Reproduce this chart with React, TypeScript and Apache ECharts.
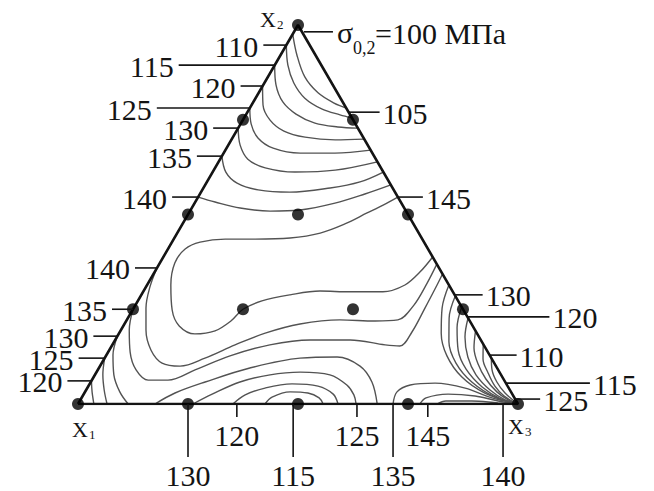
import React, { useEffect, useRef } from "react";
import * as echarts from "echarts";

// Compositions are written as [X2 %, X3 %]; X1 = 100 - X2 - X3.
type Comp = [number, number];

// {3,4} simplex-lattice design points
const latticePoints: Comp[] = [
  [0, 0], [100, 0], [0, 100],
  [25, 0], [50, 0], [75, 0],
  [75, 25], [50, 50], [25, 75],
  [0, 25], [0, 50], [0, 75],
  [50, 25], [25, 25], [25, 50],
];

// Iso-lines of the yield strength, MPa
const apex105: Comp[] = [[97.6, 0], [92.1, 3.7], [86.3, 8.4], [82.1, 13.5], [79.4, 18.5], [78.1, 21.9]];
const apex110: Comp[] = [[94.7, 0], [89.4, 3.0], [84.7, 6.7], [80.7, 11.2], [77.8, 16.6], [76.3, 21.4], [75.5, 24.5]];
const apex115: Comp[] = [[89.4, 0], [84.2, 2.9], [79.7, 6.7], [76.5, 11.3], [74.1, 16.8], [73.1, 22.5], [72.8, 27.2]];
const apex120: Comp[] = [[83.9, 0], [78.9, 2.6], [74.9, 6.2], [72.0, 10.8], [70.4, 16.4], [69.7, 23.6], [69.9, 30.1]];
const apex125: Comp[] = [[78.1, 0], [73.9, 2.4], [70.2, 5.8], [67.5, 10.6], [66.2, 17.4], [66.2, 25.3], [67.0, 33.0]];
const apex130: Comp[] = [[72.8, 0], [68.3, 2.7], [64.6, 6.3], [62.3, 11.4], [61.2, 18.7], [61.7, 27.6], [63.9, 36.1]];
const apex135: Comp[] = [[65.4, 0], [61.2, 3.0], [58.3, 7.0], [56.5, 12.7], [55.9, 20.2], [57.0, 28.8], [58.6, 34.8], [61.2, 38.8]];
const apex140: Comp[] = [[54.6, 0], [53.3, 4.5], [51.7, 11.0], [50.9, 18.2], [51.2, 24.9], [53.0, 31.9], [55.4, 37.5], [57.8, 42.2]];

const loop145: Comp[] = [
  [54.6, 45.4], [52.5, 43.1], [50.4, 40.5], [47.5, 36.9], [45.1, 32.5], [43.8, 26.3], [43.5, 18.5],
  [43.5, 11.7], [42.7, 6.4], [40.9, 3.9], [37.2, 3.4], [31.4, 5.4], [24.8, 9.0], [20.6, 12.7],
  [18.5, 17.3], [19.3, 21.5], [21.9, 23.8], [25, 25], [27.2, 28.2], [28.8, 33.8], [29.8, 40.1],
  [29.6, 47.0], [29.6, 54.5], [31.4, 58.6], [34.8, 60.3], [38.8, 61.2],
];
const band140: Comp[] = [
  [35.9, 0], [30.9, 0.9], [25.3, 2.8], [19.5, 5.7], [14.2, 9.5], [10.8, 13.7], [10.0, 18.2],
  [12.1, 22.8], [15.6, 27.9], [18.7, 33.2], [21.1, 39.9], [22.2, 48.4], [21.9, 56.6], [22.2, 61.6],
  [26.1, 63.3], [31.9, 63.4], [36.9, 63.1],
];
const band135: Comp[] = [
  [25, 0], [19.5, 1.9], [13.7, 5.0], [9.0, 8.7], [6.3, 12.8], [6.3, 17.3], [9.0, 22.1],
  [12.7, 28.2], [15.6, 35.8], [16.9, 44.3], [16.9, 53.4], [15.6, 62.0], [15.3, 65.5], [19.0, 66.4],
  [25.3, 66.2], [31.4, 65.9], [34.3, 65.7],
];

const trough1: Comp[] = [[0, 42.5], [1.8, 43.2], [3.2, 46.6], [2.9, 50.8], [1.6, 54.0], [0, 55.7]];
const trough2: Comp[] = [[0, 35.2], [2.4, 36.8], [4.2, 40.4], [5.3, 46.0], [4.7, 52.2], [2.6, 56.7], [0, 59.1]];
const trough3: Comp[] = [[0, 26.1], [2.6, 29.2], [5.8, 33.9], [7.7, 39.8], [8.4, 46.3], [7.7, 53.4], [5.0, 58.6], [2.4, 61.5], [0, 63.2]];
const trough4: Comp[] = [[0, 17.5], [2.9, 20.6], [5.8, 26.0], [9.5, 34.3], [12.1, 44.4], [12.4, 52.7], [10.0, 59.1], [5.8, 63.9], [0, 68.0]];

const corner120: Comp[] = [[6.1, 0], [3.2, 1.6], [0, 3.6]];
const corner125: Comp[] = [[12.1, 0], [7.7, 1.8], [3.7, 4.1], [0, 6.6]];
const corner130: Comp[] = [[17.9, 0], [12.9, 1.5], [7.7, 4.3], [3.2, 7.9], [0, 11.4]];

const fan1: Comp[] = [[31.4, 68.6], [25.3, 70.1], [18.7, 73.2], [12.7, 77.5], [7.1, 83.7], [2.9, 91.0], [0, 100]];
const fan2: Comp[] = [[28.5, 71.5], [22.7, 73.0], [16.4, 76.1], [10.8, 80.5], [5.8, 86.6], [1.8, 93.9], [0, 100]];
const fan3: Comp[] = [[25.6, 74.4], [20.1, 76.1], [14.2, 79.3], [9.2, 83.6], [4.5, 89.6], [1.3, 95.5], [0, 100]];
const fan4: Comp[] = [[22.7, 77.3], [17.7, 79.1], [12.4, 82.4], [7.7, 86.6], [3.7, 91.8], [1.1, 96.5], [0, 100]];
const fan5: Comp[] = [[19.3, 80.7], [14.8, 82.6], [10.6, 85.6], [6.6, 89.4], [3.2, 93.6], [1.1, 97.2], [0, 100]];
const fan6: Comp[] = [[15.8, 84.2], [11.9, 86.1], [8.2, 89.1], [4.7, 92.4], [2.1, 95.8], [0, 100]];
const fan7: Comp[] = [[12.1, 87.9], [9.0, 89.6], [5.8, 92.3], [2.9, 95.6], [0, 100]];

const toe1: Comp[] = [[0, 71.6], [3.2, 70.9], [5.0, 73.0], [5.5, 78.4], [4.2, 85.9], [1.6, 93.3], [0, 100]];
const toe2: Comp[] = [[0, 77.7], [1.6, 78.3], [2.6, 82.8], [2.1, 89.2], [0.8, 95.1], [0, 100]];
const toe3: Comp[] = [[0, 81.6], [0.8, 83.2], [0.8, 89.1], [0.3, 95.3], [0, 100]];

const isoLines: Comp[][] = [
  apex105, apex110, apex115, apex120, apex125, apex130, apex135, apex140,
  loop145, band140, band135,
  trough1, trough2, trough3, trough4,
  corner120, corner125, corner130,
  fan1, fan2, fan3, fan4, fan5, fan6, fan7,
  toe1, toe2, toe3,
];

// Level labels: [text, position along the side]
// X1–X2 side: position is X2 %
const leftSideLabels: [string, number][] = [
  ["110", 94.7], ["115", 89.4], ["120", 83.9], ["125", 78.1], ["130", 72.8], ["135", 65.4],
  ["140", 54.6], ["140", 35.9], ["135", 25], ["130", 17.9], ["125", 12.1], ["120", 6.1],
];
// X2–X3 side: position is X2 %
const rightSideLabels: [string, number][] = [
  ["105", 77.0], ["145", 54.6], ["130", 28.8], ["120", 23.0], ["110", 12.9], ["115", 5.5], ["125", 1.3],
];
// X1–X3 side: position is X3 %
const baseLabels: [string, number][] = [
  ["130", 25], ["120", 36.1], ["115", 48.9], ["125", 63.4], ["135", 71.6], ["145", 79.5], ["140", 96.6],
];
const vertexNames = [
  { name: "X", sub: "1", at: [0, 0] as Comp },
  { name: "X", sub: "2", at: [100, 0] as Comp },
  { name: "X", sub: "3", at: [0, 100] as Comp },
];
const titleLevel = "=100 МПа";

// leader lengths, px
const leftLeader = [23, 96, 22, 93, 25, 25, 26, 22, 21, 24, 26, 24];
const rightLeader = [31, 25, 28, 82, 27, 84, 25];
const baseLeader = [53, 13, 53, 13, 53, 13, 53];

const H = Math.sqrt(3) / 2;
const toXY = (c: Comp): [number, number] => [(c[1] + c[0] / 2) / 100, (c[0] / 100) * H];

const FONT = '"Liberation Serif", "Times New Roman", Times, serif';
const INK = "#141414";
const ISO = "#535353";

export default function App() {
  const ref = useRef<HTMLDivElement>(null);

  useEffect(() => {
    if (!ref.current) return;
    const chart = echarts.init(ref.current, undefined, { renderer: "svg" });

    const series: any[] = isoLines.map((line) => ({
      type: "line",
      data: line.map(toXY),
      smooth: 0.35,
      symbol: "none",
      silent: true,
      z: 2,
      lineStyle: { color: ISO, width: 1.4 },
    }));
    series.push({
      type: "line",
      data: [[0, 0], [100, 0], [0, 100], [0, 0]].map((c) => toXY(c as Comp)),
      symbol: "none",
      silent: true,
      z: 3,
      lineStyle: { color: INK, width: 2.6 },
    });
    series.push({
      type: "scatter",
      data: latticePoints.map(toXY),
      symbolSize: 12,
      silent: true,
      z: 4,
      itemStyle: { color: "#000" },
    });

    chart.setOption({
      animation: false,
      backgroundColor: "#ffffff",
      grid: { left: 78, top: 25, width: 440, height: 379 },
      xAxis: { type: "value", min: 0, max: 1, show: false },
      yAxis: { type: "value", min: 0, max: H, show: false },
      series,
    });

    const P = (c: Comp) => chart.convertToPixel({ gridIndex: 0 }, toXY(c)) as number[];
    const els: any[] = [];
    const lead = (x1: number, y1: number, x2: number, y2: number) =>
      els.push({ type: "line", silent: true, z: 10, shape: { x1, y1, x2, y2 }, style: { stroke: INK, lineWidth: 1.6 } });
    const txt = (x: number, y: number, text: string, size: number, align: string, lh?: number) =>
      els.push({
        type: "text", silent: true, z: 10, x, y,
        style: {
          text, fontSize: size, fontFamily: FONT, fill: INK, align, verticalAlign: "middle",
          lineHeight: lh ?? size,
        },
      });

    leftSideLabels.forEach(([t, pos], i) => {
      const [ax, ay] = P([pos, 0]);
      const ex = ax - leftLeader[i];
      lead(ax, ay, ex, ay);
      txt(ex - 5, ay + 1, t, 30, "right", 21);
    });
    rightSideLabels.forEach(([t, pos], i) => {
      const [ax, ay] = P([pos, 100 - pos]);
      const ex = ax + rightLeader[i];
      lead(ax, ay, ex, ay);
      txt(ex + 3, ay + 1, t, 30, "left", 21);
    });
    baseLabels.forEach(([t, pos], i) => {
      const [ax, ay] = P([0, pos]);
      const ey = ay + baseLeader[i];
      lead(ax, ay, ax, ey);
      txt(ax, ey + 18, t, 30, "center", 22);
    });

    // σ0,2 level note at the X2 vertex
    const [tx, ty] = P([98.2, 1.8]);
    lead(tx + 2, ty, tx + 31, ty);
    txt(tx + 35, ty + 1, "σ", 30, "left", 22);
    txt(tx + 51, ty + 16, "0,2", 18, "left", 14);
    txt(tx + 73, ty + 2, titleLevel, 30, "left", 22);

    // vertex names
    const vOff = [
      [2, 25, 11, 30],
      [-30, -6, -21, -1],
      [-2, 22, 7, 27],
    ];
    vertexNames.forEach((v, i) => {
      const [vx, vy] = P(v.at);
      const o = vOff[i];
      txt(vx + o[0], vy + o[1], v.name, 22, "center", 18);
      txt(vx + o[2], vy + o[3], v.sub, 13, "left", 11);
    });

    chart.setOption({ graphic: els });

    return () => chart.dispose();
  }, []);

  return (
    <div
      ref={ref}
      style={{ position: "absolute", left: 0, top: 0, width: 654, height: 491, background: "#fff" }}
    />
  );
}
